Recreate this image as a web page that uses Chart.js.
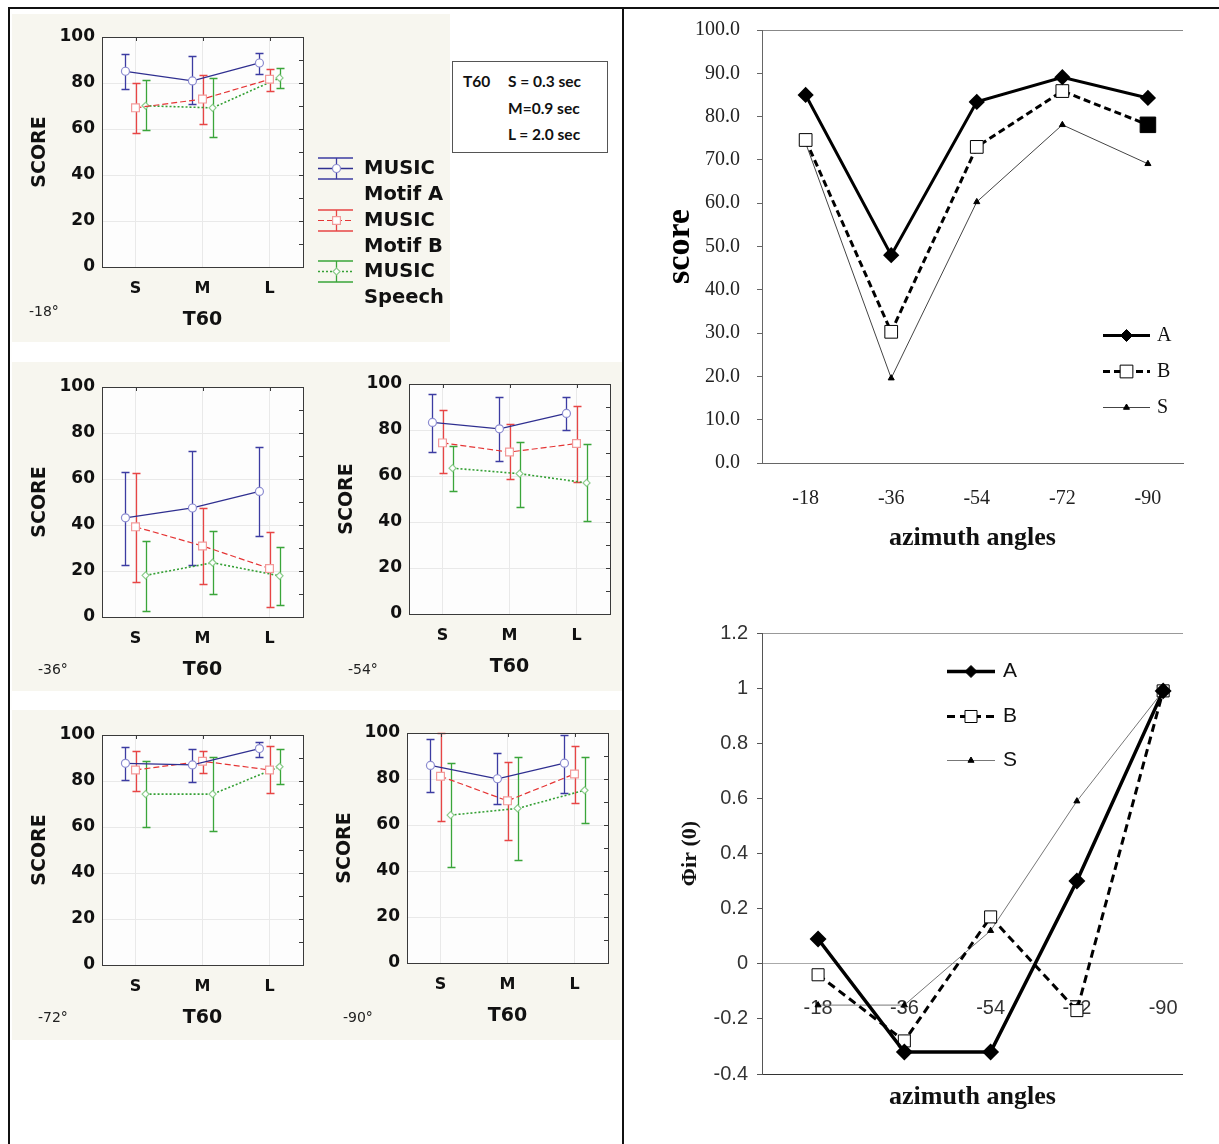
<!DOCTYPE html>
<html>
<head>
<meta charset="utf-8">
<script src="https://cdn.jsdelivr.net/npm/chart.js@4.4.0/dist/chart.umd.min.js"></script>
<style>
  body { margin: 0; background: #fff; width: 1219px; height: 1144px; position: relative; overflow: hidden; }
  .rule { position: absolute; background: #111; }
  .beige { position: absolute; background: #f7f6ef; }
  canvas { position: absolute; }
  #t60box { position: absolute; left: 452px; top: 61px; width: 154px; height: 90px; border: 1px solid #555; background: #fff;
            font: bold 15.5px Lato, "Liberation Sans", sans-serif; color: #111; }
  #t60box span { position: absolute; white-space: nowrap; }
</style>
</head>
<body>
<div class="beige" style="left:12px;top:14px;width:438px;height:328px"></div>
<div class="beige" style="left:12px;top:362px;width:610px;height:329px"></div>
<div class="beige" style="left:12px;top:710px;width:610px;height:330px"></div>

<div class="rule" style="left:8px;top:7px;width:1211px;height:2px"></div>
<div class="rule" style="left:8px;top:7px;width:2px;height:1137px"></div>
<div class="rule" style="left:622px;top:7px;width:2px;height:1137px"></div>

<canvas id="p1" width="438" height="328" style="left:12px;top:14px;width:438px;height:328px"></canvas>
<canvas id="p2" width="306" height="328" style="left:12px;top:364px;width:306px;height:328px"></canvas>
<canvas id="p3" width="306" height="328" style="left:319px;top:361px;width:306px;height:328px"></canvas>
<canvas id="p4" width="306" height="328" style="left:12px;top:712px;width:306px;height:328px"></canvas>
<canvas id="p5" width="306" height="328" style="left:317px;top:710px;width:306px;height:328px"></canvas>

<div id="t60box"></div>

<canvas id="score" width="585" height="560" style="left:630px;top:10px;width:585px;height:560px"></canvas>
<canvas id="phi" width="585" height="544" style="left:630px;top:600px;width:585px;height:544px"></canvas>

<script>
// --- DATA: small panels (one row per azimuth panel, columns S / M / L) ---
const T60_CATS = ['S', 'M', 'L'];
const T60_DEFS = ['S = 0.3 sec', 'M=0.9 sec', 'L = 2.0 sec'];
const ANGLES = ['-18°', '-36°', '-54°', '-72°', '-90°'];
const SERIES_NAMES = [['MUSIC', 'Motif A'], ['MUSIC', 'Motif B'], ['MUSIC', 'Speech']];

const A_MEAN = [[85.1, 80.9, 88.7], [43.1, 47.4, 54.6], [83.3, 80.5, 87.2], [87.7, 87.0, 94.1], [85.9, 80.1, 86.9]];
const A_HI   = [[92.5, 91.6, 93.2], [63.2, 72.0, 73.8], [95.7, 94.3, 94.4], [94.6, 93.8, 96.8], [97.6, 91.2, 99.0]];
const A_LO   = [[77.5, 70.7, 83.7], [22.4, 22.4, 35.4], [70.5, 66.5, 79.9], [80.3, 79.6, 90.6], [74.4, 69.1, 74.1]];

const B_MEAN = [[69.2, 73.0, 81.6], [39.2, 30.9, 21.1], [74.4, 70.4, 74.1], [84.8, 88.6, 84.8], [81.2, 70.5, 82.2]];
const B_HI   = [[79.9, 83.5, 86.0], [62.6, 47.4, 37.1], [88.6, 82.5, 90.6], [93.2, 93.2, 95.2], [100, 87.5, 94.2]];
const B_LO   = [[58.2, 62.3, 76.6], [15.3, 14.5, 4.2], [61.3, 58.7, 57.4], [75.8, 83.5, 74.6], [61.7, 53.5, 69.6]];

const S_MEAN = [[70.1, 69.2, 82.2], [18.1, 23.6, 17.9], [63.4, 61.0, 57.0], [74.3, 74.3, 86.2], [64.3, 67.2, 75.1]];
const S_HI   = [[81.1, 82.1, 86.6], [33.2, 37.4, 30.5], [73.1, 74.8, 74.1], [88.7, 90.4, 94.1], [86.9, 89.5, 89.5]];
const S_LO   = [[59.4, 56.6, 78.0], [2.6, 10.1, 5.1], [53.4, 46.4, 40.3], [59.9, 58.1, 78.6], [41.6, 44.6, 60.9]];

// --- DATA: right hand charts ---
const AZIMUTH = ['-18', '-36', '-54', '-72', '-90'];
const LINE_NAMES = ['A', 'B', 'S'];
const SCORE_A = [85.0, 48.0, 83.4, 89.1, 84.3];
const SCORE_B = [74.6, 30.3, 73.0, 85.9, 78.1];
const SCORE_S = [73.9, 19.6, 60.3, 78.1, 69.1];
const PHI_A = [0.09, -0.32, -0.32, 0.30, 0.99];
const PHI_B = [-0.04, -0.28, 0.17, -0.17, 0.99];
const PHI_S = [-0.15, -0.15, 0.12, 0.59, 0.99];

// --- STYLE ---
Chart.defaults.animation = false;
Chart.defaults.font.family = '"DejaVu Sans", Verdana, sans-serif';

const DODGE = [-0.15, 0, 0.15];
const CAP = 4;
const SMALL_STYLE = [
  { line: '#2f2f90', dash: [], width: 1.3, err: '#3c3ca2', point: 'circle', radius: 4, pBorder: '#8c8cd0' },
  { line: '#e53535', dash: [6, 3], width: 1.2, err: '#e84545', point: 'rect', radius: 5.5, pBorder: '#f29a9a' },
  { line: '#35a035', dash: [2, 2], width: 1.6, err: '#3aa53a', point: 'rectRot', radius: 3.5, pBorder: '#8ccc8c' }
];
const PANELS = [
  { id: 'p1', tx: 17, ty: 298, legend: true },
  { id: 'p2', tx: 26, ty: 306 },
  { id: 'p3', tx: 29, ty: 309 },
  { id: 'p4', tx: 26, ty: 306 },
  { id: 'p5', tx: 26, ty: 308 }
];
const boldFont = size => ({ family: '"DejaVu Sans", Verdana, sans-serif', weight: 'bold', size });

// keep the layout padding in charge of where the plot area sits
const noScalePadding = s => { s.paddingTop = 0; s.paddingBottom = 0; s.paddingLeft = 0; s.paddingRight = 0; };

// --- PLUGINS ---
const plotBg = {
  id: 'plotBg',
  beforeDraw(chart) {
    const { ctx, chartArea: a } = chart;
    ctx.save();
    ctx.fillStyle = '#fdfdfd';
    ctx.fillRect(a.left, a.top, a.width, a.height);
    ctx.restore();
  }
};

const errorBars = {
  id: 'errorBars',
  beforeDatasetsDraw(chart) {
    const { ctx, chartArea: a, scales: { x, y } } = chart;
    ctx.save();
    ctx.beginPath();
    ctx.rect(a.left - 2, a.top - 2, a.width + 4, a.height + 4);
    ctx.clip();
    chart.data.datasets.forEach(ds => {
      ctx.strokeStyle = ds.errColor;
      ctx.lineWidth = 1.3;
      ds.data.forEach((p, i) => {
        const px = Math.round(x.getPixelForValue(p.x)) + 0.5;
        const lo = Math.round(y.getPixelForValue(ds.errLo[i])) + 0.5;
        const hi = Math.round(y.getPixelForValue(ds.errHi[i])) + 0.5;
        ctx.beginPath();
        ctx.moveTo(px, lo); ctx.lineTo(px, hi);
        ctx.moveTo(px - CAP, lo); ctx.lineTo(px + CAP, lo);
        ctx.moveTo(px - CAP, hi); ctx.lineTo(px + CAP, hi);
        ctx.stroke();
      });
    });
    ctx.restore();
  }
};

const frame = {
  id: 'frame',
  afterDraw(chart, args, opts) {
    const { ctx, chartArea: a, scales: { x, y } } = chart;
    ctx.save();
    ctx.strokeStyle = '#3a3a3a';
    ctx.lineWidth = 1;
    ctx.strokeRect(Math.round(a.left) + 0.5, Math.round(a.top) + 0.5, Math.round(a.width), Math.round(a.height));
    ctx.beginPath();
    for (let v = 10; v < 100; v += 10) {
      const py = Math.round(y.getPixelForValue(v)) + 0.5;
      ctx.moveTo(a.right - 4, py); ctx.lineTo(a.right, py);
    }
    T60_CATS.forEach((c, i) => {
      const px = Math.round(x.getPixelForValue(i)) + 0.5;
      ctx.moveTo(px, a.top); ctx.lineTo(px, a.top + 4);
    });
    ctx.stroke();
    ctx.fillStyle = '#222';
    ctx.font = '14px "DejaVu Sans", Tahoma, sans-serif';
    ctx.textBaseline = 'middle';
    ctx.textAlign = 'left';
    ctx.fillText(opts.tag, opts.tx, opts.ty);
    ctx.restore();
  }
};

const musicLegend = {
  id: 'musicLegend',
  afterDraw(chart) {
    const { ctx, chartArea: a } = chart;
    chart.data.datasets.forEach((ds, s) => {
      const cy = Math.round(a.top + 131 + s * 51.5) + 0.5;
      const x0 = a.right + 15, x1 = a.right + 50, cx = Math.round((x0 + x1) / 2) + 0.5;
      ctx.save();
      ctx.strokeStyle = ds.errColor;
      ctx.lineWidth = 1.3;
      ctx.beginPath();
      ctx.moveTo(x0, cy - 10.5); ctx.lineTo(x1, cy - 10.5);
      ctx.moveTo(x0, cy + 10.5); ctx.lineTo(x1, cy + 10.5);
      ctx.moveTo(cx, cy - 10.5); ctx.lineTo(cx, cy + 10.5);
      ctx.stroke();
      ctx.strokeStyle = ds.borderColor;
      ctx.lineWidth = ds.borderWidth;
      ctx.setLineDash(ds.borderDash);
      ctx.beginPath(); ctx.moveTo(x0, cy); ctx.lineTo(x1, cy); ctx.stroke();
      ctx.setLineDash([]);
      ctx.fillStyle = '#fff';
      ctx.strokeStyle = ds.pointBorderColor;
      ctx.lineWidth = 1.2;
      Chart.helpers.drawPoint(ctx, { pointStyle: ds.pointStyle, radius: ds.pointRadius, rotation: 0, borderWidth: 1.2 }, cx, cy);
      ctx.fillStyle = '#111';
      ctx.font = 'bold 19.5px "DejaVu Sans", Verdana, sans-serif';
      ctx.textBaseline = 'middle';
      ctx.textAlign = 'left';
      SERIES_NAMES[s].forEach((t, j) => ctx.fillText(t, a.right + 61, cy + j * 26));
      ctx.restore();
    });
  }
};

const lineLegend = {
  id: 'lineLegend',
  afterDraw(chart, args, o) {
    const { ctx, chartArea: a } = chart;
    chart.data.datasets.forEach((ds, i) => {
      const y = Math.round(o.fromBottom ? a.bottom - o.y + i * o.gap : a.top + o.y + i * o.gap) + 0.5;
      const x0 = o.fromRight ? a.right - o.x : a.left + o.x;
      const x1 = x0 + o.len;
      ctx.save();
      ctx.strokeStyle = ds.borderColor;
      ctx.lineWidth = ds.borderWidth;
      ctx.setLineDash(ds.borderDash || []);
      ctx.beginPath(); ctx.moveTo(x0, y); ctx.lineTo(x1, y); ctx.stroke();
      ctx.setLineDash([]);
      ctx.fillStyle = ds.legendFill;
      ctx.strokeStyle = '#000';
      ctx.lineWidth = 1;
      Chart.helpers.drawPoint(ctx, { pointStyle: ds.pointStyle, radius: ds.legendRadius, rotation: 0, borderWidth: 1 }, (x0 + x1) / 2, y);
      ctx.fillStyle = '#111';
      ctx.font = o.font;
      ctx.textBaseline = 'middle';
      ctx.textAlign = 'left';
      ctx.fillText(ds.label, x1 + o.textGap, y);
      ctx.restore();
    });
  }
};

// --- SMALL PANELS ---
function makePanel(k) {
  const cfg = PANELS[k];
  const means = [A_MEAN[k], B_MEAN[k], S_MEAN[k]];
  const los = [A_LO[k], B_LO[k], S_LO[k]];
  const his = [A_HI[k], B_HI[k], S_HI[k]];

  const datasets = SMALL_STYLE.map((st, s) => ({
    label: SERIES_NAMES[s].join(' '),
    data: means[s].map((v, i) => ({ x: i + DODGE[s], y: v })),
    errLo: los[s],
    errHi: his[s],
    errColor: st.err,
    borderColor: st.line,
    borderWidth: st.width,
    borderDash: st.dash,
    pointStyle: st.point,
    pointRadius: st.radius,
    pointBackgroundColor: '#fff',
    pointBorderColor: st.pBorder,
    pointBorderWidth: 1.2,
    tension: 0,
    fill: false
  }));

  const plugins = [plotBg, errorBars, frame];
  if (cfg.legend) plugins.push(musicLegend);

  new Chart(document.getElementById(cfg.id), {
    type: 'line',
    data: { datasets },
    options: {
      responsive: false,
      layout: { padding: { left: 17, top: 23, right: cfg.legend ? 147 : 15, bottom: 11 } },
      plugins: {
        legend: { display: false },
        tooltip: { enabled: false },
        frame: { tag: ANGLES[k], tx: cfg.tx, ty: cfg.ty }
      },
      scales: {
        x: {
          type: 'linear', min: -0.5, max: 2.5,
          afterBuildTicks: s => { s.ticks = T60_CATS.map((c, i) => ({ value: i })); },
          afterFit: s => { s.height = 64; noScalePadding(s); },
          ticks: { callback: v => T60_CATS[v], font: boldFont(16), color: '#111', padding: 12, maxRotation: 0, autoSkip: false },
          grid: { drawTicks: false, color: '#e9e9e9' },
          border: { display: false },
          title: { display: true, text: 'T60', font: boldFont(19), color: '#111', padding: 0 }
        },
        y: {
          min: 0, max: 100,
          afterFit: s => { s.width = 73; noScalePadding(s); },
          ticks: { stepSize: 20, font: boldFont(17), color: '#111', padding: 7 },
          grid: { drawTicks: false, color: c => (c.tick.value === 0 || c.tick.value === 100) ? 'rgba(0,0,0,0)' : '#e9e9e9' },
          border: { display: false },
          title: { display: true, text: 'SCORE', font: boldFont(19), color: '#111', padding: 0 }
        }
      }
    },
    plugins
  });
}
PANELS.forEach((p, k) => makePanel(k));

// --- T60 BOX ---
const box = document.getElementById('t60box');
box.innerHTML = '<span style="left:10px;top:10px">T60</span>' +
  T60_DEFS.map((t, i) => `<span style="left:55px;top:${10 + i * 26.5}px">${t}</span>`).join('');

// --- SCORE CHART ---
const serif = (size, weight) => ({ family: '"Liberation Serif", "Times New Roman", serif', size, weight });
const toPts = arr => arr.map((v, i) => ({ x: i, y: v }));

new Chart(document.getElementById('score'), {
  type: 'line',
  data: {
    datasets: [
      { label: LINE_NAMES[0], data: toPts(SCORE_A), borderColor: '#000', borderWidth: 3, pointStyle: 'rectRot',
        pointRadius: 6, pointBackgroundColor: '#000', pointBorderColor: '#000', legendFill: '#000', legendRadius: 6 },
      { label: LINE_NAMES[1], data: toPts(SCORE_B), borderColor: '#000', borderWidth: 3, borderDash: [7, 4], pointStyle: 'rect',
        pointRadius: c => c.dataIndex === SCORE_B.length - 1 ? 11 : 9,
        pointBackgroundColor: c => c.dataIndex === SCORE_B.length - 1 ? '#000' : '#fff',
        pointBorderColor: '#000', pointBorderWidth: 1, legendFill: '#fff', legendRadius: 9 },
      { label: LINE_NAMES[2], data: toPts(SCORE_S), borderColor: '#444', borderWidth: 1, pointStyle: 'triangle',
        pointRadius: 3.5, pointBackgroundColor: '#000', pointBorderColor: '#000', legendFill: '#000', legendRadius: 3.5 }
    ]
  },
  options: {
    responsive: false,
    layout: { padding: { left: 30, top: 20, right: 32, bottom: 16 } },
    elements: { line: { tension: 0 } },
    plugins: {
      legend: { display: false },
      tooltip: { enabled: false },
      lineLegend: { fromRight: true, x: 80, fromBottom: true, y: 128, gap: 36, len: 47, textGap: 7, font: '20px "Liberation Serif", serif' }
    },
    scales: {
      x: {
        type: 'linear', min: -0.51, max: 4.41,
        afterBuildTicks: s => { s.ticks = AZIMUTH.map((a, i) => ({ value: i })); },
        afterFit: s => { s.height = 91; noScalePadding(s); },
        ticks: { callback: v => AZIMUTH[v], font: serif(20), color: '#222', padding: 16, maxRotation: 0, autoSkip: false },
        grid: { display: false },
        border: { color: '#666' },
        title: { display: true, text: 'azimuth angles', font: serif(26, 'bold'), color: '#111', padding: 0 }
      },
      y: {
        min: 0, max: 100,
        afterFit: s => { s.width = 102; noScalePadding(s); },
        ticks: { stepSize: 10, callback: v => v.toFixed(1), font: serif(20), color: '#222', padding: 17 },
        grid: { color: c => c.tick.value === 100 ? '#888' : 'rgba(0,0,0,0)', tickColor: '#666', tickLength: 5 },
        border: { color: '#666' },
        title: { display: true, text: 'score', font: serif(34, 'bold'), color: '#000', padding: 0 }
      }
    }
  },
  plugins: [lineLegend]
});

// --- PHI CHART ---
const sans = size => ({ family: '"Liberation Sans", Arial, sans-serif', size });

new Chart(document.getElementById('phi'), {
  type: 'line',
  data: {
    datasets: [
      { label: LINE_NAMES[0], data: toPts(PHI_A), borderColor: '#000', borderWidth: 3.5, pointStyle: 'rectRot',
        pointRadius: 6, pointBackgroundColor: '#000', pointBorderColor: '#000', legendFill: '#000', legendRadius: 6 },
      { label: LINE_NAMES[1], data: toPts(PHI_B), borderColor: '#000', borderWidth: 3, borderDash: [8, 5], pointStyle: 'rect',
        pointRadius: 8.5, pointBackgroundColor: '#fff', pointBorderColor: '#000', pointBorderWidth: 1, legendFill: '#fff', legendRadius: 8.5 },
      { label: LINE_NAMES[2], data: toPts(PHI_S), borderColor: '#777', borderWidth: 1, pointStyle: 'triangle',
        pointRadius: 3.5, pointBackgroundColor: '#000', pointBorderColor: '#000', legendFill: '#000', legendRadius: 3.5 }
    ]
  },
  options: {
    responsive: false,
    layout: { padding: { left: 47, top: 33, right: 32, bottom: 31 } },
    elements: { line: { tension: 0 } },
    plugins: {
      legend: { display: false },
      tooltip: { enabled: false },
      lineLegend: { fromRight: false, x: 185, fromBottom: false, y: 38, gap: 44.5, len: 48, textGap: 8, font: '21px "Liberation Sans", Arial, sans-serif' }
    },
    scales: {
      x: {
        type: 'linear', min: -0.65, max: 4.23, position: { y: 0 },
        afterBuildTicks: s => { s.ticks = AZIMUTH.map((a, i) => ({ value: i })); },
        ticks: { callback: v => AZIMUTH[v], font: sans(20), color: '#333', padding: 25, maxRotation: 0, autoSkip: false },
        grid: { display: false },
        border: { display: false }
      },
      xt: {
        type: 'linear', position: 'bottom', display: true, min: 0, max: 1,
        afterFit: s => { s.height = 39; noScalePadding(s); },
        ticks: { display: false },
        grid: { display: false },
        border: { display: false },
        title: { display: true, text: 'azimuth angles', font: serif(26, 'bold'), color: '#111', padding: 0 }
      },
      y: {
        min: -0.4, max: 1.2,
        afterFit: s => { s.width = 85; noScalePadding(s); },
        ticks: { stepSize: 0.2, callback: v => String(Math.round(v * 10) / 10), font: sans(20), color: '#333', padding: 9 },
        grid: {
          color: c => {
            const v = c.tick.value;
            if (Math.abs(v - 1.2) < 1e-6) return '#999';
            if (Math.abs(v) < 1e-6) return '#aaa';
            if (Math.abs(v + 0.4) < 1e-6) return '#333';
            return 'rgba(0,0,0,0)';
          },
          tickColor: '#555', tickLength: 5
        },
        border: { color: '#555' },
        title: { display: true, text: 'Φir (0)', font: serif(22, 'bold'), color: '#111', padding: 0 }
      }
    }
  },
  plugins: [lineLegend]
});
</script>
</body>
</html>
